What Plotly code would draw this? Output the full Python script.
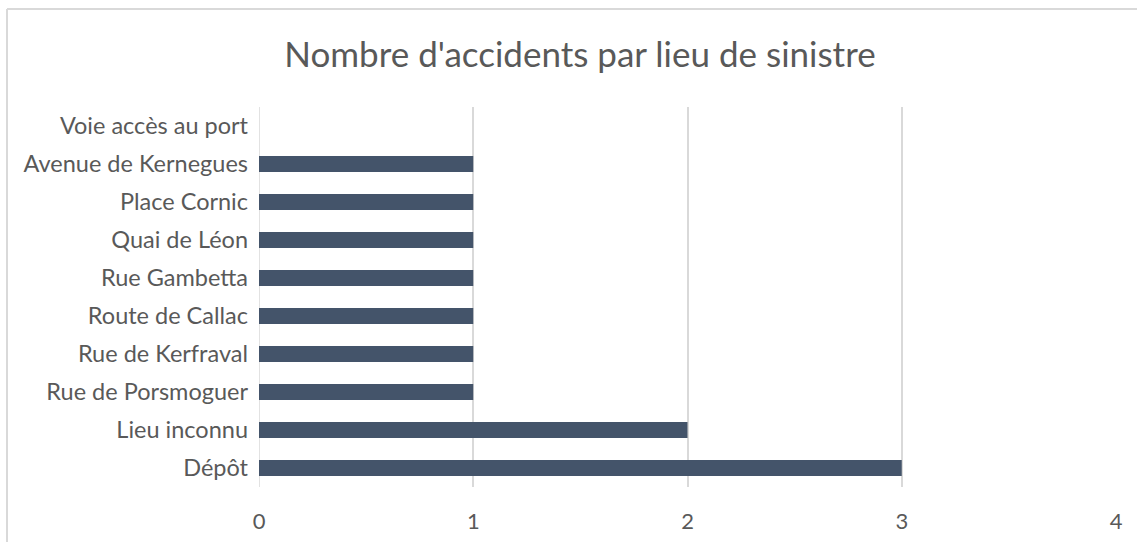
import plotly.graph_objects as go

categories = ["Dépôt", "Lieu inconnu", "Rue de Porsmoguer", "Rue de Kerfraval",
              "Route de Callac", "Rue Gambetta", "Quai de Léon", "Place Cornic",
              "Avenue de Kernegues", "Voie accès au port"]
values = [3, 2, 1, 1, 1, 1, 1, 1, 1, 0]
x_ticks = [0, 1, 2, 3, 4]

W, H = 1137, 542
L, R, T, B = 259, 21, 107, 55
pw, ph = W - L - R, H - T - B

def px_x(p):
    return (p - L) / pw

def px_y(p):
    return (H - B - p) / ph

FONT = "Lato, Open Sans, sans-serif"

fig = go.Figure(go.Bar(
    y=categories, x=values, orientation="h",
    marker=dict(color="#44546A", line=dict(width=0)),
    width=0.42,
))

fig.update_layout(
    width=W, height=H,
    margin=dict(l=L, r=R, t=T, b=B, pad=0, autoexpand=False),
    paper_bgcolor="white", plot_bgcolor="white",
    font=dict(family=FONT, color="#595959"),
    title=dict(text="Nombre d'accidents par lieu de sinistre",
               x=580 / W, xanchor="center", y=1 - 55 / H, yanchor="middle",
               font=dict(size=35, color="#595959", family=FONT)),
    showlegend=False,
    xaxis=dict(range=[0, 4], tickvals=x_ticks, showgrid=True, gridcolor="#D9D9D9",
               gridwidth=1.5, zeroline=False, showline=False, ticks="",
               tickfont=dict(size=22, color="#595959"), ticklabelstandoff=19,
               automargin=False, fixedrange=True),
    yaxis=dict(categoryorder="array", categoryarray=categories, showgrid=False,
               zeroline=False, showline=False, ticks="",
               tickfont=dict(size=23.5, color="#595959"), ticklabelstandoff=10,
               automargin=False, range=[-0.5, 9.5], fixedrange=True),
    shapes=[
        dict(type="line", xref="paper", yref="paper",
             x0=px_x(7), x1=px_x(1140), y0=px_y(9), y1=px_y(9),
             line=dict(color="#D9D9D9", width=2)),
        dict(type="line", xref="paper", yref="paper",
             x0=px_x(7), x1=px_x(7), y0=px_y(9), y1=px_y(545),
             line=dict(color="#D9D9D9", width=2)),
        dict(type="line", xref="x", yref="paper", x0=0, x1=0, y0=0, y1=1,
             line=dict(color="#D9D9D9", width=1.5), layer="below"),
    ],
)

fig.write_html("out.html", config={"displayModeBar": False},
               post_script="document.body.style.margin='0';document.body.style.overflow='hidden';")
